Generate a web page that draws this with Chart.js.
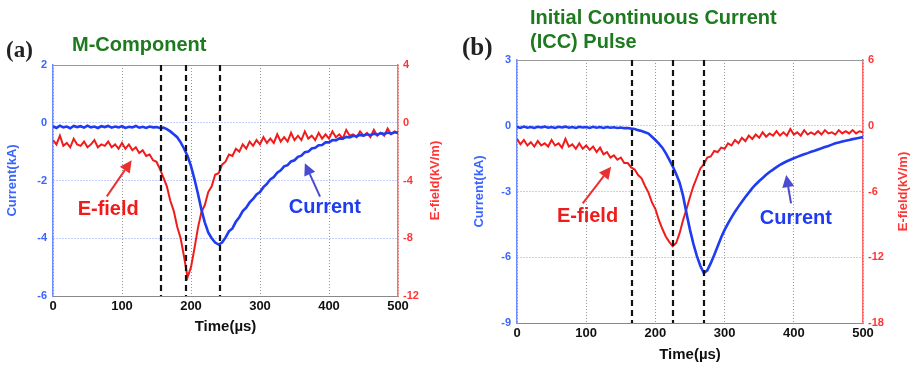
<!DOCTYPE html>
<html><head><meta charset="utf-8">
<script src="https://cdn.jsdelivr.net/npm/chart.js@4/dist/chart.umd.min.js"></script>
<style>
html,body{margin:0;padding:0;background:#fff;width:916px;height:368px;overflow:hidden;position:relative;font-family:"Liberation Sans",Arial,sans-serif}
canvas{position:absolute;top:0}
.lab{position:absolute;white-space:nowrap;font-weight:bold}
.pl{font-family:"Liberation Serif","Times New Roman",serif;color:#222}
.tt{color:#1e7a1e;font-size:20px;line-height:24px}
</style></head><body>
<canvas id="ca" width="458" height="368" style="left:0"></canvas>
<canvas id="cb" width="458" height="368" style="left:458px"></canvas>
<div class="lab pl" style="left:6px;top:37px;font-size:23px">(a)</div>
<div class="lab tt" style="left:72px;top:32px">M-Component</div>
<div class="lab pl" style="left:462px;top:33px;font-size:25px">(b)</div>
<div class="lab tt" style="left:530px;top:5px">Initial Continuous Current<br>(ICC) Pulse</div>
<script>
// sample times (µs)
const timeUs = [0,5,10,15,20,25,30,35,40,45,50,55,60,65,70,75,80,85,90,95,100,105,110,115,120,125,130,135,140,145,150,155,160,165,170,175,180,185,190,195,200,205,210,215,220,225,230,235,240,245,250,255,260,265,270,275,280,285,290,295,300,305,310,315,320,325,330,335,340,345,350,355,360,365,370,375,380,385,390,395,400,405,410,415,420,425,430,435,440,445,450,455,460,465,470,475,480,485,490,495,500];

// (a) M-Component
const currentA = [-0.12,-0.18,-0.10,-0.16,-0.13,-0.19,-0.11,-0.15,-0.12,-0.17,-0.10,-0.16,-0.13,-0.18,-0.12,-0.15,-0.11,-0.17,-0.13,-0.16,-0.12,-0.18,-0.14,-0.16,-0.11,-0.17,-0.14,-0.18,-0.13,-0.16,-0.15,-0.18,-0.17,-0.22,-0.30,-0.40,-0.50,-0.68,-0.90,-1.15,-1.50,-1.95,-2.45,-3.00,-3.45,-3.80,-4.00,-4.15,-4.22,-4.15,-3.98,-3.76,-3.66,-3.43,-3.27,-3.06,-2.94,-2.76,-2.64,-2.48,-2.40,-2.23,-2.12,-1.96,-1.88,-1.73,-1.65,-1.51,-1.47,-1.34,-1.30,-1.18,-1.14,-1.02,-1.00,-0.89,-0.87,-0.78,-0.77,-0.68,-0.68,-0.60,-0.61,-0.54,-0.55,-0.49,-0.51,-0.45,-0.47,-0.42,-0.45,-0.40,-0.43,-0.38,-0.41,-0.36,-0.39,-0.34,-0.38,-0.33,-0.35];
const efieldA = [-1.2,-1.5,-0.9,-1.6,-1.4,-1.7,-1.1,-1.5,-1.6,-1.3,-1.7,-1.5,-1.2,-1.7,-1.5,-1.6,-1.3,-1.7,-1.5,-1.8,-1.4,-1.8,-1.5,-1.9,-1.7,-2.1,-1.9,-2.3,-2.2,-2.6,-2.7,-3.2,-3.8,-4.4,-5.4,-6.1,-7.2,-8.0,-9.3,-10.7,-10.0,-8.7,-7.3,-6.2,-5.7,-4.8,-4.4,-3.6,-3.5,-2.9,-2.7,-2.2,-2.3,-1.8,-2.0,-1.5,-1.8,-1.3,-1.6,-1.2,-1.5,-1.0,-1.4,-1.1,-1.4,-0.8,-1.3,-1.0,-1.3,-0.7,-1.2,-0.9,-1.2,-0.6,-1.1,-0.9,-1.2,-0.7,-1.1,-0.8,-1.1,-0.6,-1.0,-0.8,-1.1,-0.5,-0.9,-0.8,-1.0,-0.6,-0.9,-0.7,-1.0,-0.5,-0.9,-0.7,-0.9,-0.4,-0.8,-0.6,-0.7];
const markersA = [157,193,242];

// (b) ICC Pulse
const currentB = [-0.05,-0.10,-0.04,-0.09,-0.06,-0.10,-0.05,-0.08,-0.04,-0.09,-0.06,-0.10,-0.05,-0.08,-0.04,-0.09,-0.06,-0.10,-0.05,-0.08,-0.06,-0.10,-0.05,-0.09,-0.06,-0.10,-0.06,-0.09,-0.07,-0.10,-0.08,-0.11,-0.10,-0.13,-0.15,-0.20,-0.24,-0.30,-0.36,-0.50,-0.65,-0.82,-1.00,-1.25,-1.55,-1.85,-2.20,-2.60,-3.20,-4.00,-4.75,-5.40,-5.95,-6.40,-6.72,-6.60,-6.27,-5.90,-5.50,-5.10,-4.75,-4.45,-4.18,-3.92,-3.69,-3.47,-3.25,-3.05,-2.85,-2.68,-2.52,-2.38,-2.24,-2.11,-2.00,-1.89,-1.79,-1.70,-1.62,-1.55,-1.48,-1.42,-1.36,-1.30,-1.25,-1.19,-1.14,-1.08,-1.03,-0.97,-0.92,-0.86,-0.80,-0.76,-0.72,-0.68,-0.65,-0.61,-0.58,-0.55,-0.52];
const efieldB = [-1.2,-1.7,-1.3,-1.8,-1.5,-1.9,-1.4,-1.8,-1.6,-1.9,-1.3,-1.8,-1.6,-2.0,-1.2,-1.9,-1.7,-2.1,-1.6,-2.1,-1.8,-2.2,-1.9,-2.4,-2.0,-2.6,-2.4,-2.9,-2.7,-3.1,-2.9,-3.4,-3.4,-3.8,-4.0,-4.5,-4.8,-5.5,-6.1,-7.0,-7.6,-8.6,-9.4,-10.1,-10.6,-11.0,-10.7,-9.8,-8.6,-7.6,-6.5,-5.5,-4.7,-3.9,-3.5,-2.9,-2.8,-2.3,-2.4,-2.0,-2.1,-1.6,-1.8,-1.3,-1.6,-1.1,-1.4,-0.9,-1.2,-0.8,-1.1,-0.6,-1.0,-0.7,-0.9,-0.5,-0.9,-0.6,-0.9,-0.3,-0.8,-0.6,-0.9,-0.4,-0.8,-0.6,-0.8,-0.5,-0.8,-0.4,-0.7,-0.6,-0.8,-0.4,-0.7,-0.5,-0.7,-0.4,-0.7,-0.5,-0.6];
const markersB = [166,226,270];

const BLUE = '#1f3cf0', RED = '#f01c1c';
const BLUE_T = '#3b64ff', RED_T = '#ff3535';
const FONT = "'Liberation Sans', Arial, sans-serif";

function pts(vals){ return timeUs.map((t,i)=>({x:t,y:vals[i]})); }

const overlay = {
  id:'overlay',
  afterDraw(chart, args, o){
    const {ctx, scales:{yR}} = chart;
    const a = chart.chartArea;
    ctx.save();
    ctx.translate(yR.right - 12, (a.top + a.bottom)/2);
    ctx.rotate(-Math.PI/2);
    ctx.fillStyle = RED_T; ctx.font = "bold 13px " + FONT;
    ctx.textAlign = 'center'; ctx.textBaseline = 'middle';
    ctx.fillText(o.rightTitle, 0, 0);
    ctx.restore();
  },
  afterDatasetsDraw(chart, args, o){
    const {ctx, chartArea:a, scales:{x, yL}} = chart;
    ctx.save();
    // top frame line
    ctx.strokeStyle = '#999'; ctx.lineWidth = 1;
    ctx.beginPath(); ctx.moveTo(a.left, a.top+0.5); ctx.lineTo(a.right, a.top+0.5); ctx.stroke();
    // dashed markers
    ctx.strokeStyle = '#111'; ctx.lineWidth = 2.2; ctx.setLineDash([6,4]);
    o.markers.forEach(m=>{
      const px = Math.round(x.getPixelForValue(m));
      ctx.beginPath(); ctx.moveTo(px, a.top); ctx.lineTo(px, a.bottom); ctx.stroke();
    });
    ctx.setLineDash([]);
    // arrows + labels
    o.notes.forEach(n=>{
      const x0 = x.getPixelForValue(n.tail[0]), y0 = yL.getPixelForValue(n.tail[1]);
      const x1 = x.getPixelForValue(n.tip[0]), y1 = yL.getPixelForValue(n.tip[1]);
      const ang = Math.atan2(y1-y0, x1-x0);
      ctx.strokeStyle = n.arrow; ctx.fillStyle = n.arrow; ctx.lineWidth = 2;
      const hx = x1 - 12*Math.cos(ang), hy = y1 - 12*Math.sin(ang);
      ctx.beginPath(); ctx.moveTo(x0,y0); ctx.lineTo(hx,hy); ctx.stroke();
      ctx.beginPath(); ctx.moveTo(x1,y1);
      ctx.lineTo(hx + 6*Math.sin(ang), hy - 6*Math.cos(ang));
      ctx.lineTo(hx - 6*Math.sin(ang), hy + 6*Math.cos(ang));
      ctx.closePath(); ctx.fill();
      ctx.fillStyle = n.color; ctx.font = "bold 20px " + FONT;
      ctx.textAlign = 'center'; ctx.textBaseline = 'middle';
      ctx.fillText(n.text, x.getPixelForValue(n.at[0]), yL.getPixelForValue(n.at[1]));
    });
    ctx.restore();
  }
};

function make(id, cur, ef, cfg){
  new Chart(document.getElementById(id), {
    type:'line',
    data:{datasets:[
      {label:'Current', data:pts(cur), yAxisID:'yL', borderColor:BLUE, borderWidth:2.6, pointRadius:0, tension:0, order:1},
      {label:'E-field', data:pts(ef), yAxisID:'yR', borderColor:RED, borderWidth:2, pointRadius:0, tension:0, order:2}
    ]},
    options:{
      responsive:false, animation:false, events:[],
      layout:{padding:cfg.pad},
      plugins:{legend:{display:false}, tooltip:{enabled:false}, overlay:{markers:cfg.markers, notes:cfg.notes, rightTitle:'E-field(kV/m)'}},
      scales:{
        x:{type:'linear', min:0, max:500,
           ticks:{stepSize:100, color:'#111', font:{family:FONT, size:13, weight:'bold'}, padding:3, maxRotation:0},
           grid:{color:'rgba(140,140,140,0.9)', drawTicks:false, lineWidth:1},
           border:{color:'#888', dash:[1,2]},
           title:{display:true, text:'Time(µs)', color:'#111', font:{family:FONT, size:15, weight:'bold'}, padding:{top:4,bottom:4}},
           afterFit:s=>{s.height = cfg.xh;}},
        yL:{type:'linear', position:'left', min:cfg.lmin, max:cfg.lmax,
           ticks:{stepSize:cfg.lstep, color:BLUE_T, font:{family:FONT, size:11, weight:'bold'}, padding:6},
           grid:{color:'rgba(110,135,255,0.8)', drawTicks:false, lineWidth:1},
           border:{color:'#6f8cff', width:1.5, dash:[1,2]},
           title:{display:true, text:'Current(kA)', color:BLUE_T, font:{family:FONT, size:13, weight:'bold'}, padding:{top:4,bottom:4}},
           afterFit:s=>{s.width = cfg.lw;}},
        yR:{type:'linear', position:'right', min:cfg.rmin, max:cfg.rmax,
           ticks:{stepSize:cfg.rstep, color:RED_T, font:{family:FONT, size:11, weight:'bold'}, padding:5},
           grid:{drawOnChartArea:false, drawTicks:false},
           border:{color:'#ff6b6b', width:1.5},
           title:{display:false},
           afterFit:s=>{s.width = cfg.rw;}}
      }
    },
    plugins:[overlay]
  });
}

make('ca', currentA, efieldA, {
  pad:{left:1,right:11,top:65,bottom:28}, xh:44, lw:52, rw:49,
  lmin:-6, lmax:2, lstep:2, rmin:-12, rmax:4, rstep:4, markers:markersA,
  notes:[
    {text:'E-field', at:[80,-2.99], tail:[78,-2.55], tip:[114,-1.3], color:RED, arrow:'#e83030'},
    {text:'Current', at:[394,-2.92], tail:[387,-2.56], tip:[365,-1.4], color:BLUE, arrow:'#4b4bd0'}
  ]});
make('cb', currentB, efieldB, {
  pad:{left:10,right:1,top:60,bottom:0}, xh:45, lw:49, rw:52,
  lmin:-9, lmax:3, lstep:3, rmin:-18, rmax:6, rstep:6, markers:markersB,
  notes:[
    {text:'E-field', at:[102,-4.15], tail:[95,-3.54], tip:[136,-1.87], color:RED, arrow:'#e83030'},
    {text:'Current', at:[403,-4.22], tail:[396,-3.54], tip:[389,-2.25], color:BLUE, arrow:'#4b4bd0'}
  ]});
</script>
</body></html>
